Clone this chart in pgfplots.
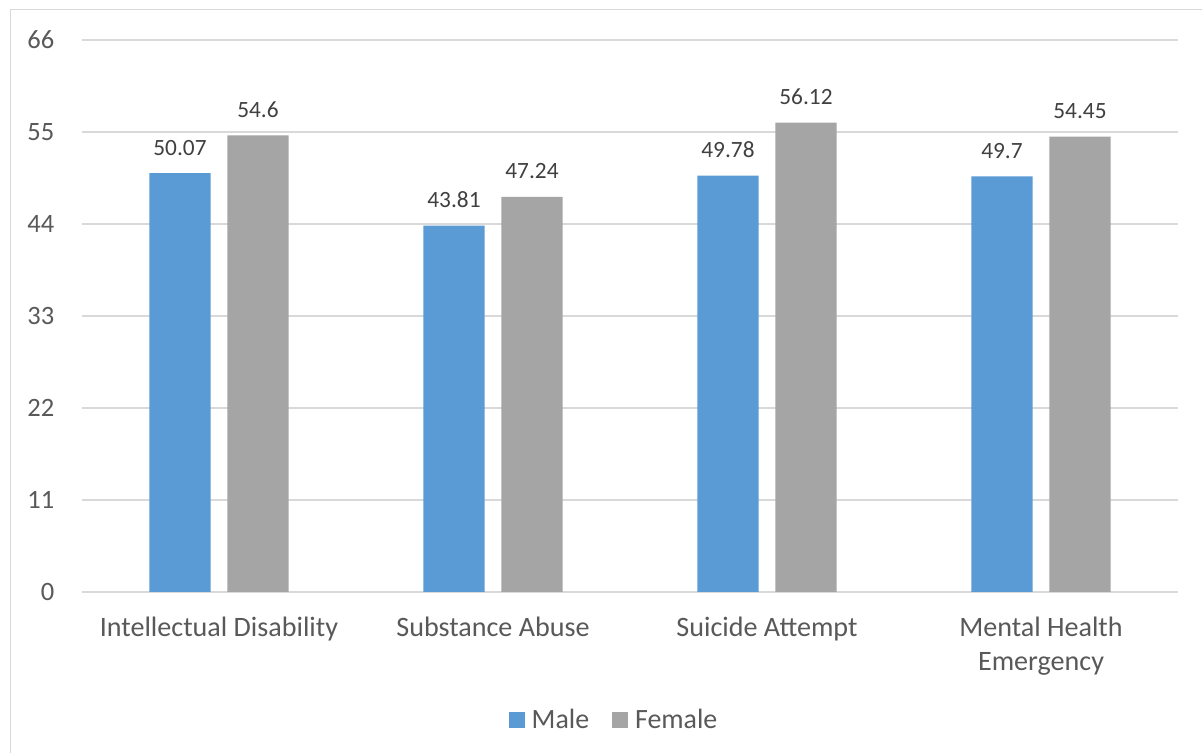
\documentclass[border=0pt]{standalone}
\usepackage{pgfplots}
\pgfplotsset{compat=1.18}
\usepackage{fontspec}
\setmainfont{Carlito}
\definecolor{cblue}{HTML}{5B9BD5}
\definecolor{cgray}{HTML}{A5A5A5}
\definecolor{ctick}{HTML}{595959}
\definecolor{clab}{HTML}{404040}
\definecolor{cgrid}{HTML}{D9D9D9}
\begin{document}
\begin{tikzpicture}
\useasboundingbox (0,0) rectangle (1202bp,753bp);
\fill[white] (0,0) rectangle (1202bp,753bp);
\draw[cgrid, line width=1.5bp] (10.5bp,0) -- (10.5bp,743.5bp) -- (1202bp,743.5bp);
\begin{axis}[
  at={(82bp,161bp)}, anchor=south west,
  scale only axis, width=1096bp, height=552bp,
  ybar, bar width=61.3bp,
  xmin=-0.5, xmax=3.5, ymin=0, ymax=66,
  enlarge x limits=false,
  ytick={0,11,22,33,44,55,66},
  xtick={0,1,2,3},
  xticklabels={Intellectual Disability, Substance Abuse, Suicide Attempt, {Mental Health\\Emergency}},
  major tick length=0pt,
  axis line style={draw=none},
  ymajorgrids, grid style={cgrid, line width=1.3bp},
  /pgf/number format/assume math mode=true,
  tick label style={text=ctick, inner sep=0pt},
  yticklabel style={font=\fontsize{26.6}{30}\selectfont, anchor=east, xshift=-27.5bp},
  xticklabel style={font=\fontsize{28.2}{34}\selectfont, anchor=north, align=center, yshift=-24.5bp},
  nodes near coords={\pgfplotspointmeta},
  point meta=explicit symbolic,
  every node near coord/.append style={anchor=base, yshift=18bp, inner sep=0pt, font=\fontsize{23.4}{28}\selectfont, text=clab},
  legend columns=2,
  legend style={at={(0.4845,-0.2319)}, anchor=center, draw=none, fill=none,
    font=\fontsize{28}{30}\selectfont, text=ctick,
    nodes={inner sep=0pt},
    /tikz/every odd column/.append style={column sep=7bp},
    /tikz/every even column/.append style={column sep=23bp}},
  legend image code/.code={\fill[#1] (0bp,-8bp) rectangle (16bp,8bp);},
]
\addplot[bar shift=-39bp, fill=cblue, draw=none] coordinates {(0,50.07) [50.07] (1,43.81) [43.81] (2,49.78) [49.78] (3,49.7) [49.7]};
\addlegendentry{Male}
\addplot[bar shift=39bp, fill=cgray, draw=none] coordinates {(0,54.6) [54.6] (1,47.24) [47.24] (2,56.12) [56.12] (3,54.45) [54.45]};
\addlegendentry{Female}
\end{axis}
\end{tikzpicture}
\end{document}
